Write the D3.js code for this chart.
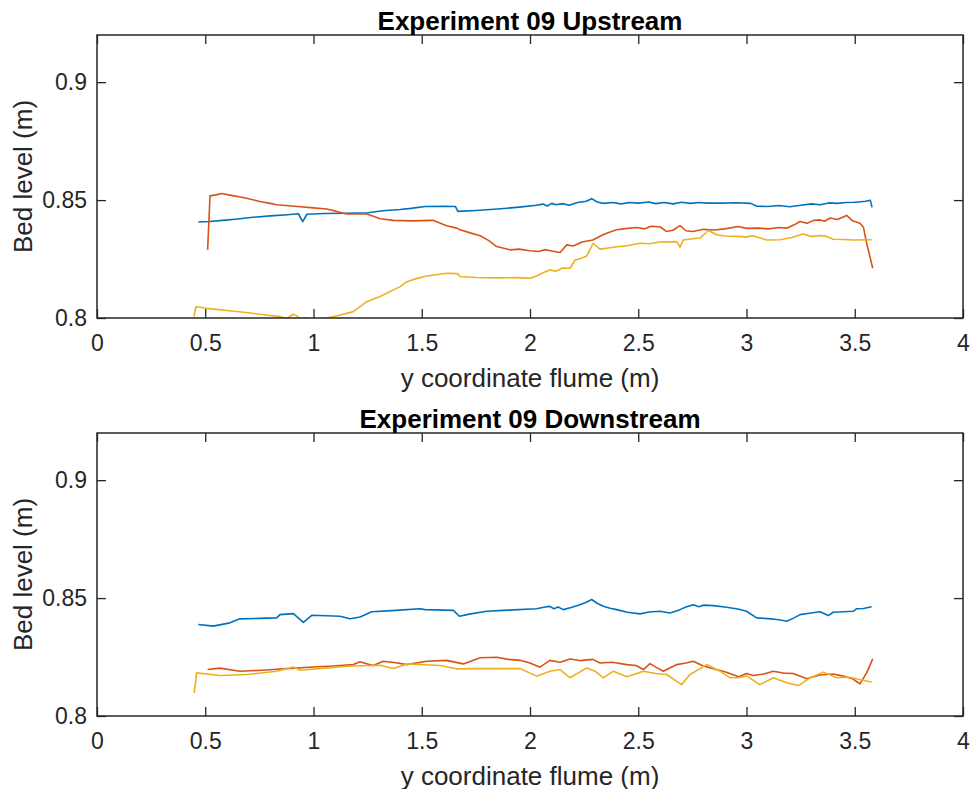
<!DOCTYPE html>
<html>
<head>
<meta charset="utf-8">
<script src="https://cdn.jsdelivr.net/npm/d3@7"></script>
<style>
  body { margin: 0; background: #fff; }
  text { font-family: "Liberation Sans", Arial, sans-serif; fill: #262626; }
  .title { font-size: 26px; font-weight: bold; fill: #000; }
  .label { font-size: 26px; }
</style>
</head>
<body>
<div id="chart"></div>
<script>
// DATA  ([y coordinate, bed level])
var xTicks = [0, 0.5, 1, 1.5, 2, 2.5, 3, 3.5, 4];
var yTicks = [0.8, 0.85, 0.9];

var upBlue = [[0.468,0.8407],[0.52,0.8409],[0.58,0.8414],[0.65,0.8420],[0.72,0.8427],[0.80,0.8433],[0.88,0.8438],[0.93,0.8442],[0.95,0.8409],[0.97,0.8440],[1.05,0.8443],[1.15,0.8444],[1.25,0.8446],[1.32,0.8455],[1.40,0.8460],[1.45,0.8465],[1.515,0.8473],[1.60,0.8474],[1.655,0.8473],[1.667,0.8452],[1.75,0.8456],[1.85,0.8462],[1.95,0.8470],[2.03,0.8478],[2.06,0.8483],[2.08,0.8475],[2.10,0.8486],[2.12,0.8480],[2.15,0.8485],[2.18,0.8478],[2.22,0.8490],[2.26,0.8495],[2.285,0.8506],[2.31,0.8492],[2.34,0.8486],[2.38,0.8490],[2.42,0.8484],[2.46,0.8490],[2.50,0.8487],[2.55,0.8492],[2.58,0.8485],[2.62,0.8490],[2.66,0.8484],[2.70,0.8491],[2.74,0.8486],[2.78,0.8490],[2.82,0.8487],[2.88,0.8487],[2.95,0.8489],[3.02,0.8486],[3.047,0.8474],[3.10,0.8473],[3.15,0.8477],[3.20,0.8472],[3.25,0.8478],[3.30,0.8484],[3.34,0.8480],[3.38,0.8488],[3.42,0.8486],[3.46,0.8490],[3.50,0.8491],[3.55,0.8495],[3.572,0.8499],[3.58,0.8469]];
var upRed = [[0.511,0.8289],[0.522,0.8518],[0.55,0.8522],[0.576,0.8528],[0.62,0.8520],[0.68,0.8510],[0.753,0.8494],[0.80,0.8486],[0.83,0.8480],[0.90,0.8475],[1.00,0.8467],[1.061,0.8462],[1.107,0.8452],[1.153,0.8441],[1.246,0.8441],[1.28,0.8430],[1.307,0.8421],[1.37,0.8414],[1.45,0.8412],[1.552,0.8414],[1.615,0.8391],[1.661,0.8381],[1.677,0.8374],[1.72,0.8362],[1.77,0.8349],[1.81,0.8328],[1.846,0.8303],[1.908,0.8289],[1.95,0.8292],[2.00,0.8285],[2.04,0.8282],[2.07,0.8290],[2.10,0.8284],[2.139,0.8278],[2.17,0.8310],[2.20,0.8305],[2.24,0.8322],[2.29,0.8331],[2.337,0.8353],[2.37,0.8365],[2.40,0.8374],[2.45,0.8380],[2.493,0.8384],[2.53,0.8378],[2.56,0.8389],[2.60,0.8387],[2.63,0.8367],[2.66,0.8372],[2.693,0.8392],[2.72,0.8370],[2.753,0.8367],[2.80,0.8376],[2.85,0.8373],[2.90,0.8378],[2.96,0.8388],[3.00,0.8380],[3.06,0.8381],[3.10,0.8378],[3.15,0.8384],[3.186,0.8381],[3.22,0.8395],[3.247,0.8409],[3.28,0.8402],[3.31,0.8414],[3.339,0.8416],[3.36,0.8410],[3.386,0.8424],[3.42,0.8418],[3.463,0.8435],[3.49,0.8412],[3.524,0.8402],[3.540,0.8385],[3.555,0.8317],[3.583,0.8211]];
var upYellow = [[0.448,0.8006],[0.457,0.8048],[0.507,0.8041],[0.60,0.8032],[0.70,0.8022],[0.78,0.8013],[0.845,0.8006],[0.876,0.7998],[0.907,0.8016],[0.925,0.8008],[0.938,0.7996],[0.97,0.8001],[1.00,0.7985],[1.04,0.7990],[1.061,0.8000],[1.12,0.8012],[1.184,0.8027],[1.246,0.8069],[1.307,0.8091],[1.40,0.8133],[1.431,0.8154],[1.48,0.8168],[1.523,0.8178],[1.615,0.8190],[1.665,0.8188],[1.677,0.8176],[1.75,0.8172],[1.85,0.8170],[1.93,0.8171],[2.00,0.8169],[2.03,0.8178],[2.06,0.8192],[2.092,0.8204],[2.12,0.8198],[2.15,0.8212],[2.185,0.8211],[2.208,0.8246],[2.235,0.8252],[2.262,0.8263],[2.292,0.8317],[2.323,0.8292],[2.354,0.8296],[2.40,0.8302],[2.447,0.8306],[2.508,0.8317],[2.55,0.8315],[2.60,0.8322],[2.678,0.8324],[2.693,0.8300],[2.708,0.8331],[2.75,0.8336],[2.785,0.8339],[2.824,0.8371],[2.862,0.8353],[2.90,0.8348],[2.955,0.8346],[3.00,0.8344],[3.03,0.8349],[3.06,0.8340],[3.093,0.8331],[3.155,0.8332],[3.21,0.8341],[3.261,0.8356],[3.30,0.8345],[3.34,0.8350],[3.37,0.8346],[3.40,0.8334],[3.45,0.8333],[3.492,0.8331],[3.578,0.8332]];

var downBlue = [[0.468,0.8388],[0.537,0.8381],[0.614,0.8395],[0.66,0.8412],[0.75,0.8414],[0.83,0.8416],[0.845,0.8430],[0.907,0.8434],[0.953,0.8397],[0.992,0.8427],[1.06,0.8425],[1.122,0.8423],[1.169,0.8412],[1.215,0.8420],[1.269,0.8442],[1.38,0.8448],[1.492,0.8455],[1.515,0.8451],[1.646,0.8448],[1.674,0.8423],[1.72,0.8432],[1.80,0.8444],[1.90,0.8449],[2.03,0.8455],[2.07,0.8462],[2.092,0.8465],[2.11,0.8455],[2.13,0.8462],[2.154,0.8451],[2.19,0.8460],[2.231,0.8472],[2.26,0.8482],[2.285,0.8494],[2.31,0.8478],[2.339,0.8465],[2.37,0.8457],[2.40,0.8451],[2.45,0.8440],[2.508,0.8433],[2.55,0.8441],[2.60,0.8444],[2.647,0.8437],[2.693,0.8451],[2.72,0.8462],[2.754,0.8472],[2.78,0.8463],[2.80,0.8470],[2.846,0.8468],[2.90,0.8462],[2.96,0.8454],[3.00,0.8444],[3.047,0.8416],[3.10,0.8413],[3.15,0.8408],[3.186,0.8402],[3.22,0.8416],[3.247,0.8430],[3.29,0.8436],[3.339,0.8442],[3.378,0.8426],[3.40,0.8440],[3.45,0.8442],[3.493,0.8444],[3.509,0.8455],[3.54,0.8456],[3.578,0.8463]];
var downRed = [[0.511,0.8197],[0.568,0.8203],[0.66,0.8190],[0.74,0.8193],[0.814,0.8197],[0.876,0.8201],[0.999,0.8208],[1.09,0.8212],[1.184,0.8218],[1.215,0.8230],[1.245,0.8222],[1.276,0.8214],[1.322,0.8232],[1.38,0.8226],[1.431,0.8218],[1.523,0.8232],[1.615,0.8236],[1.692,0.8221],[1.77,0.8247],[1.846,0.8249],[1.90,0.8240],[1.954,0.8236],[2.00,0.8225],[2.046,0.8207],[2.092,0.8236],[2.139,0.8228],[2.185,0.8242],[2.23,0.8235],[2.29,0.8240],[2.323,0.8225],[2.38,0.8228],[2.447,0.8218],[2.49,0.8214],[2.524,0.8197],[2.554,0.8222],[2.585,0.8205],[2.616,0.8190],[2.678,0.8218],[2.72,0.8225],[2.754,0.8232],[2.80,0.8212],[2.847,0.8200],[2.90,0.8188],[2.964,0.8166],[3.00,0.8180],[3.03,0.8172],[3.08,0.8178],[3.124,0.8190],[3.17,0.8182],[3.216,0.8180],[3.278,0.8158],[3.339,0.8174],[3.40,0.8178],[3.447,0.8169],[3.49,0.8158],[3.524,0.8136],[3.555,0.8183],[3.583,0.8242]];
var downYellow = [[0.449,0.8098],[0.46,0.8183],[0.568,0.8172],[0.691,0.8176],[0.83,0.8190],[0.907,0.8208],[0.938,0.8194],[1.05,0.8203],[1.153,0.8211],[1.307,0.8215],[1.369,0.8201],[1.431,0.8221],[1.584,0.8214],[1.661,0.8200],[1.77,0.8201],[1.954,0.8201],[2.03,0.8169],[2.092,0.8190],[2.139,0.8197],[2.185,0.8162],[2.262,0.8204],[2.30,0.8190],[2.339,0.8162],[2.385,0.8190],[2.447,0.8166],[2.524,0.8190],[2.58,0.8180],[2.631,0.8176],[2.70,0.8133],[2.739,0.8176],[2.816,0.8218],[2.878,0.8190],[2.924,0.8162],[2.964,0.8162],[3.00,0.8170],[3.062,0.8133],[3.124,0.8162],[3.186,0.8141],[3.24,0.8129],[3.293,0.8162],[3.355,0.8186],[3.417,0.8162],[3.47,0.8165],[3.524,0.8155],[3.578,0.8143]];

var colors = ["#0072BD", "#D95319", "#EDB120"];

var panels = [
  { title: "Experiment 09 Upstream", top: 35, series: [upBlue, upRed, upYellow] },
  { title: "Experiment 09 Downstream", top: 433, series: [downBlue, downRed, downYellow] }
];

// svg
var W = 976, H = 789;
var svg = d3.select("#chart").append("svg")
  .attr("width", W)
  .attr("height", H);

var left = 97, right = 963, ph = 283;

var x = d3.scaleLinear().domain([0, 4]).range([0, right - left]);
var y = d3.scaleLinear().domain([0.8, 0.92]).range([ph, 0]);

var line = d3.line()
  .x(function(d){ return x(d[0]); })
  .y(function(d){ return y(d[1]); });

panels.forEach(function(p, i){
  var g = svg.append("g")
    .attr("transform", "translate(" + left + "," + p.top + ")");

  g.append("clipPath")
    .attr("id", "clip" + i)
    .append("rect")
    .attr("width", right - left)
    .attr("height", ph);

  // lines
  g.append("g")
    .attr("clip-path", "url(#clip" + i + ")")
    .selectAll("path")
    .data(p.series)
    .enter()
    .append("path")
    .attr("fill", "none")
    .attr("stroke", function(d, j){ return colors[j]; })
    .attr("stroke-width", 1.6)
    .attr("stroke-linejoin", "round")
    .attr("d", line);

  // axes (ticks pointing in, box on)
  var xb = g.append("g")
    .attr("transform", "translate(0," + ph + ")")
    .call(d3.axisBottom(x).tickValues(xTicks).tickSize(-9).tickPadding(17)
      .tickFormat(d3.format("")));
  var yl = g.append("g")
    .call(d3.axisLeft(y).tickValues(yTicks).tickSize(-9).tickPadding(10)
      .tickFormat(d3.format("")));
  var xt = g.append("g")
    .call(d3.axisTop(x).tickValues(xTicks).tickSize(-9).tickFormat(""));
  var yr = g.append("g")
    .attr("transform", "translate(" + (right - left) + ",0)")
    .call(d3.axisRight(y).tickValues(yTicks).tickSize(-9).tickFormat(""));

  [xb, yl, xt, yr].forEach(function(a){
    a.attr("font-family", null).attr("font-size", null);
    a.select(".domain").remove();
    a.selectAll("line").attr("stroke", "#262626").attr("stroke-width", 1.3);
    a.selectAll("text").attr("fill", "#262626").style("font-size", "23px");
  });

  g.append("rect")
    .attr("width", right - left)
    .attr("height", ph)
    .attr("fill", "none")
    .attr("stroke", "#262626")
    .attr("stroke-width", 1.5);

  // titles and labels
  svg.append("text")
    .attr("class", "title")
    .attr("x", (left + right) / 2)
    .attr("y", p.top - 5)
    .attr("text-anchor", "middle")
    .text(p.title);

  svg.append("text")
    .attr("class", "label")
    .attr("x", (left + right) / 2)
    .attr("y", p.top + ph + 68.5)
    .attr("text-anchor", "middle")
    .text("y coordinate flume (m)");

  svg.append("text")
    .attr("class", "label")
    .attr("transform", "translate(32," + (p.top + ph / 2) + ") rotate(-90)")
    .attr("text-anchor", "middle")
    .text("Bed level (m)");
});
</script>
</body>
</html>
